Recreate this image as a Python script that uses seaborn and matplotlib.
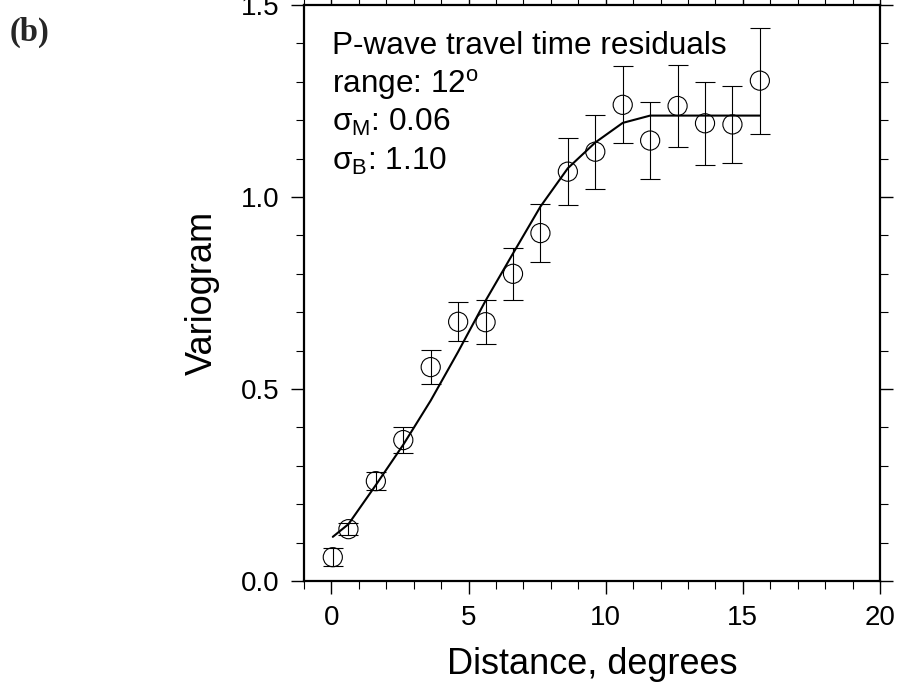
import numpy as np
import pandas as pd
import matplotlib
matplotlib.use("Agg")
import matplotlib.pyplot as plt
import seaborn as sns
from matplotlib.ticker import MultipleLocator, FormatStrFormatter

# ==================== data ====================
dist = [0.05, 0.62, 1.62, 2.62, 3.62, 4.62, 5.62, 6.62, 7.62, 8.62,
        9.62, 10.62, 11.62, 12.62, 13.62, 14.62, 15.62]
vario = [0.062, 0.135, 0.26, 0.367, 0.557, 0.675, 0.674, 0.80, 0.906, 1.066,
         1.118, 1.240, 1.147, 1.237, 1.192, 1.189, 1.303]
vario_err = [0.023, 0.015, 0.023, 0.033, 0.044, 0.051, 0.058, 0.067, 0.076, 0.088,
             0.096, 0.10, 0.10, 0.107, 0.108, 0.10, 0.138]

model_dist = [0.05, 0.62, 1.62, 2.62, 3.62, 4.62, 5.62, 6.62, 7.62, 8.62,
              9.62, 10.62, 11.62, 12.62, 13.62, 14.62, 15.62]
model_vario = [0.115, 0.148, 0.25, 0.355, 0.47, 0.597, 0.73, 0.853, 0.975, 1.075,
               1.142, 1.193, 1.212, 1.212, 1.212, 1.212, 1.212]

info_lines = ["P-wave travel time residuals",
              r"range: 12$^\mathrm{o}$",
              r"σ$_\mathrm{M}$: 0.06",
              r"σ$_\mathrm{B}$: 1.10"]

# ==================== style ====================
sns.set_theme(style="ticks")
plt.rcParams['font.family'] = ['Liberation Sans', 'DejaVu Sans']
plt.rcParams['mathtext.fontset'] = 'custom'
plt.rcParams['mathtext.rm'] = 'Liberation Sans'
plt.rcParams['mathtext.it'] = 'Liberation Sans:italic'

pts = pd.DataFrame({"dist": dist, "vario": vario, "err": vario_err})
model = pd.DataFrame({"dist": model_dist, "vario": model_vario})

fig = plt.figure(figsize=(9.03, 6.89), dpi=100)
ax = fig.add_axes([304 / 903, 1 - 581 / 689, 576 / 903, 576 / 689])

# error bars
ax.errorbar(pts["dist"], pts["vario"], yerr=pts["err"], fmt="none",
            ecolor="black", elinewidth=0.8, capsize=7, capthick=0.8, zorder=2)
# model curve
sns.lineplot(data=model, x="dist", y="vario", color="black", lw=1.5,
             sort=False, ax=ax, zorder=3)
# open circles
sns.scatterplot(data=pts, x="dist", y="vario", marker="o", s=190,
                facecolors="none", edgecolor="black", linewidth=0.8,
                ax=ax, zorder=4)

ax.set_xlim(-1, 20)
ax.set_ylim(0, 1.5)
ax.xaxis.set_major_locator(MultipleLocator(5))
ax.xaxis.set_minor_locator(MultipleLocator(1))
ax.yaxis.set_major_locator(MultipleLocator(0.5))
ax.yaxis.set_minor_locator(MultipleLocator(0.1))
ax.yaxis.set_major_formatter(FormatStrFormatter("%.1f"))

for s in ax.spines.values():
    s.set_visible(True)
    s.set_linewidth(1.6)
    s.set_color("black")

ax.tick_params(which="both", direction="out", top=True, right=True,
               color="black", labelsize=20, labelcolor="black")
ax.tick_params(which="major", length=9.5, width=1.0, pad=8)
ax.tick_params(which="minor", length=5.5, width=0.8)

ax.set_xlabel("Distance, degrees", fontsize=26, labelpad=11, color="black")
ax.set_ylabel("Variogram", fontsize=26, labelpad=15, color="black")

for i, line in enumerate(info_lines):
    ax.text(332 / 903, 1 - (54 + 38.5 * i) / 689, line, transform=fig.transFigure,
            fontsize=22.7, ha="left", va="baseline", color="black")

fig.text(10 / 903, 1 - 41 / 689, "(b)", fontsize=23.5, fontweight="bold",
         family=["Liberation Serif", "DejaVu Serif"], ha="left", va="baseline")

fig.savefig("out.png", dpi=100)
